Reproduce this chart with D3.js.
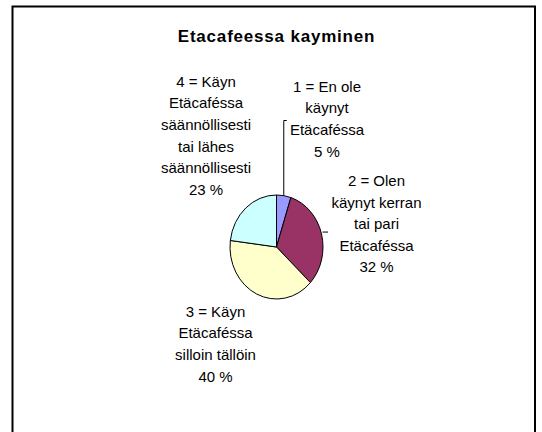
<!DOCTYPE html>
<html>
<head>
<meta charset="utf-8">
<script src="https://cdn.jsdelivr.net/npm/d3@7"></script>
<style>
  html, body { margin: 0; padding: 0; background: #fff; overflow: hidden; }
  svg { display: block; }
  text { font-family: "Liberation Sans", Arial, sans-serif; fill: #000; }
</style>
</head>
<body>
<svg width="542" height="432"></svg>
<script>
// data
var categories = ["1 = En ole käynyt Etäcaféssa",
                  "2 = Olen käynyt kerran tai pari Etäcaféssa",
                  "3 = Käyn Etäcaféssa silloin tällöin",
                  "4 = Käyn Etäcaféssa säännöllisesti tai lähes säännöllisesti"];
var values = [5, 32, 40, 23];
var labelLines = [
    ["1 = En ole", "käynyt", "Etäcaféssa"],
    ["2 = Olen", "käynyt kerran", "tai pari", "Etäcaféssa"],
    ["3 = Käyn", "Etäcaféssa", "silloin tällöin"],
    ["4 = Käyn", "Etäcaféssa", "säännöllisesti", "tai lähes", "säännöllisesti"]
];
var colors = ["#9999FF", "#993366", "#FFFFCC", "#CCFFFF"];
var title = "Etacafeessa kayminen";

var svg = d3.select("svg");

// chart area frame
svg.append("rect")
  .attr("x", 12.5).attr("y", 6.5)
  .attr("width", 522.5).attr("height", 450)
  .attr("fill", "#fff")
  .attr("stroke", "#000")
  .attr("stroke-width", 2);

svg.append("text")
  .attr("x", 276.5).attr("y", 41.7)
  .attr("text-anchor", "middle")
  .style("font-size", "17px")
  .style("font-weight", "bold")
  .style("letter-spacing", "0.8px")
  .text(title);

var cx = 276.5, cy = 247, ry = 52, rx = 46.5;

var pie = d3.pie().sort(null).value(function(d) {return d;});
var arcs = pie(values);
var arc = d3.arc().innerRadius(0).outerRadius(ry);
var edge = d3.arc().innerRadius(ry).outerRadius(ry);

var g = svg.append("g")
  .attr("transform", "translate(" + cx + "," + cy + ") scale(" + (rx / ry) + ",1)");

g.selectAll("path")
  .data(arcs)
  .enter()
  .append("path")
  .attr("d", arc)
  .attr("fill", function(d, i) {return colors[i];})
  .attr("stroke", "#000")
  .attr("stroke-width", 1)
  .attr("vector-effect", "non-scaling-stroke");

// label anchors (centre x, first baseline) and leader lines
var labelPos = [[327, 91.7], [376.5, 186], [215.5, 316.7], [206, 86.7]];
var lh = 21.6;

function edgePoint(i) {
  var c = edge.centroid(arcs[i]);
  return [cx + c[0] * rx / ry, cy + c[1]];
}

var p0 = edgePoint(0);
svg.append("path")
  .attr("d", "M" + p0[0] + "," + p0[1] + "V120.5H" + (p0[0] + 3))
  .attr("fill", "none").attr("stroke", "#000").attr("stroke-width", 1);

var p1 = edgePoint(1);
svg.append("path")
  .attr("d", "M" + (p1[0] + 1) + "," + (p1[1] - 2) + "H" + (p1[0] + 6.5))
  .attr("fill", "none").attr("stroke", "#000").attr("stroke-width", 1);

labelLines.forEach(function(lines, i) {
  var t = svg.append("text")
    .attr("text-anchor", "middle")
    .style("font-size", "15px");
  lines.concat([values[i] + " %"]).forEach(function(s, j) {
    t.append("tspan")
      .attr("x", labelPos[i][0])
      .attr("y", labelPos[i][1] + j * lh)
      .text(s);
  });
});
</script>
</body>
</html>
